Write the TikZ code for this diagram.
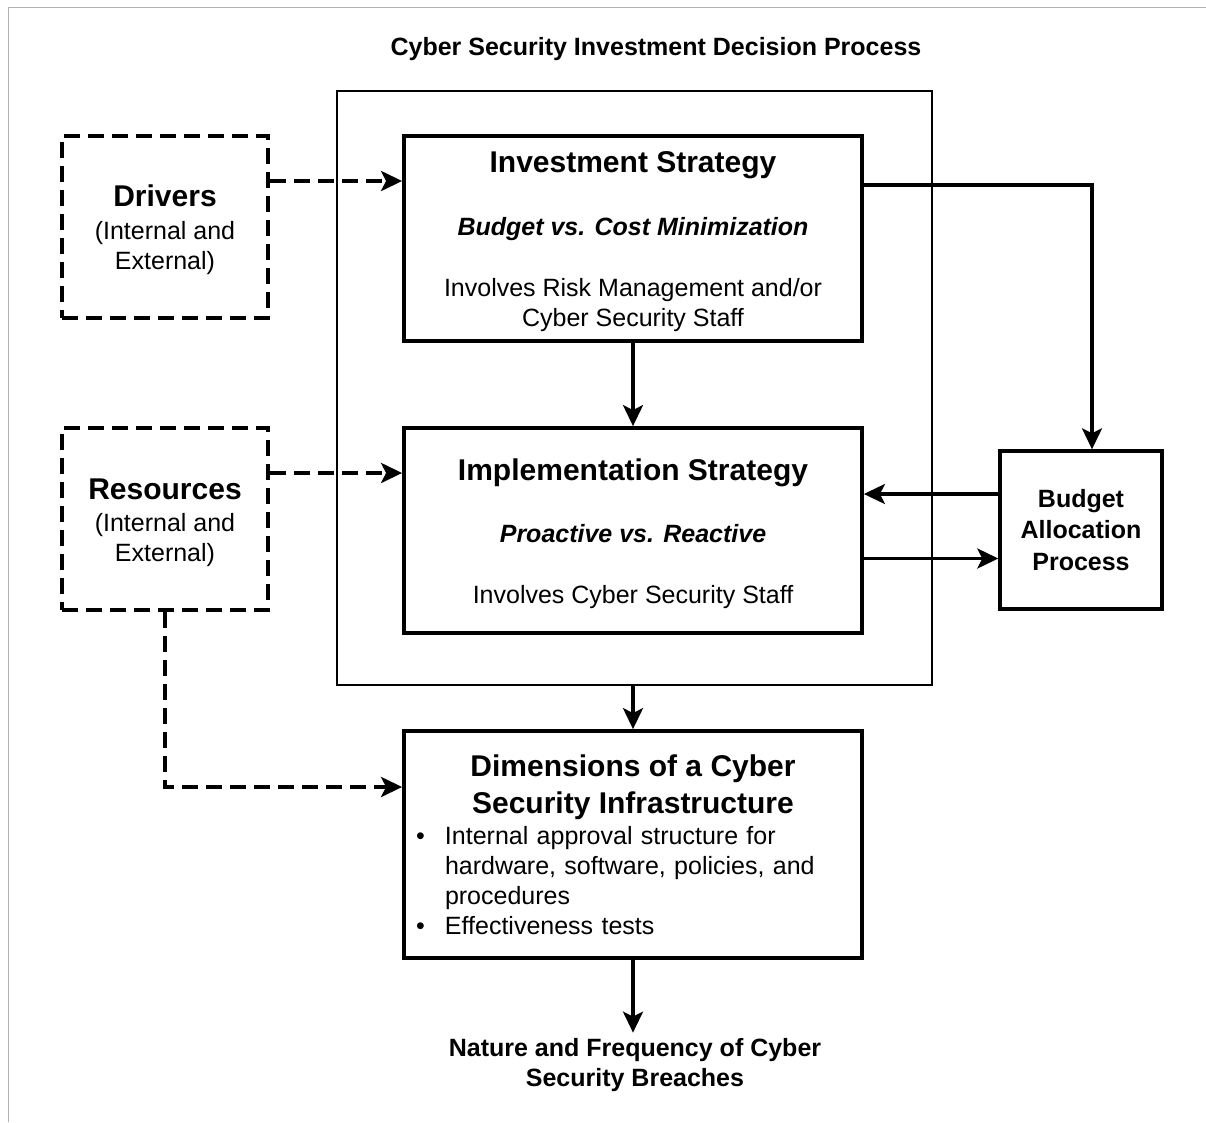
\documentclass[tikz,border=0pt]{standalone}
\usepackage{fontspec}
\setmainfont{Liberation Sans}
\usetikzlibrary{positioning, arrows.meta, calc}
\setlength{\parindent}{0pt}
\newcommand{\bighead}{\fontsize{30}{37}\selectfont\bfseries}
\newcommand{\bitem}[1]{\makebox[33pt][l]{\hspace{4pt}#1}}
\newcommand{\headstrut}{\rule{0pt}{28pt}}

\begin{document}
\begin{tikzpicture}[x=1pt, y=-1pt,
    flowbox/.style={rectangle, draw, line width=3.8pt, minimum width=458pt, minimum height=205pt, align=center, inner sep=0pt, font=\fontsize{25}{30}\selectfont},
    sidebox/.style={rectangle, draw, dash pattern=on 16pt off 8pt, line width=4.8pt, minimum width=206pt, minimum height=182pt, align=center, inner sep=0pt, font=\fontsize{25}{30}\selectfont},
    arrow/.style={line width=3.4pt, -{Stealth[length=21pt, width=20pt, inset=5pt]}},
    dasharrow/.style={arrow, line width=4.8pt, dash pattern=on 16pt off 8pt}
]
    \useasboundingbox (0,0) rectangle (1206,1122);
    \draw[gray!60, line width=1pt] (8,1122) -- (8,7) -- (1206,7);

    \node[font=\fontsize{25}{30}\selectfont\bfseries] (title) at (656,48.6) {Cyber Security Investment Decision Process};
    \node[draw, line width=2.6pt, minimum width=595pt, minimum height=594pt, inner sep=0pt] (outer) at (634.5,388) {};

    \node[flowbox] (inv) at (633,238.5) {{\headstrut\bighead Investment Strategy}\\[33pt]
        \textbf{\textit{Budget vs. Cost Minimization}}\\[31pt]
        Involves Risk Management and/or\\Cyber Security Staff};
    \node[flowbox] (impl) at (633,530.5) {{\headstrut\bighead Implementation Strategy}\\[32pt]
        \textbf{\textit{Proactive vs. Reactive}}\\[31pt]
        Involves Cyber Security Staff};
    \node[rectangle, draw, line width=3.4pt, minimum width=162pt, minimum height=158pt, align=center, inner sep=0pt, font=\fontsize{25}{31.5}\selectfont\bfseries] (budget) at (1081,530) {Budget\\Allocation\\Process};

    \node[sidebox] (drivers) at (165,227) {{\headstrut\bighead Drivers}\\[3pt](Internal and\\External)};
    \node[sidebox] (res) at (165,519) {{\headstrut\bighead Resources}\\[2pt](Internal and\\External)};

    \node[flowbox, minimum height=227pt, text width=442pt, align=left] (dims) at (633,844.5) {%
        {\centering\bighead Dimensions of a Cyber\\Security Infrastructure\par}
        \vspace{1.5pt}
        \bitem{\textbullet}Internal approval structure for\\
        \bitem{}hardware, software, policies, and\\
        \bitem{}procedures\\
        \bitem{\textbullet}Effectiveness tests};

    \node[font=\fontsize{25}{30}\selectfont\bfseries, align=center, inner sep=6pt] (breach) at (635,1065.5) {Nature and Frequency of Cyber\\Security Breaches};

    % dashed inputs
    \draw[dasharrow] ([yshift=46pt]drivers.east) -- ([yshift=46pt]drivers.east -| inv.west);
    \draw[dasharrow] ([yshift=46pt]res.east) -- ([yshift=46pt]res.east -| impl.west);
    \draw[dasharrow] (res.south) |- ([yshift=57.5pt]dims.west);

    % solid flow
    \draw[arrow] (inv.south) -- (impl.north);
    \draw[arrow] ([yshift=53.5pt]inv.east) -| ([xshift=11pt]budget.north);
    \draw[arrow] ([yshift=36pt]budget.west) -- ([yshift=36pt]budget.west -| impl.east);
    \draw[arrow] ([yshift=-28pt]impl.east) -- ([yshift=-28pt]impl.east -| budget.west);
    \draw[arrow] (dims.north |- outer.south) -- (dims.north);
    \draw[arrow] (dims.south) -- (dims.south |- breach.north);
\end{tikzpicture}
\end{document}
